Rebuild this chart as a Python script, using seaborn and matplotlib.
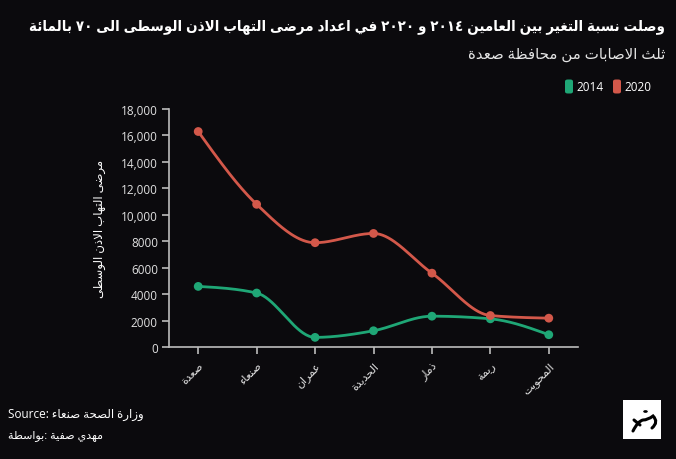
import numpy as np
import pandas as pd
import matplotlib
matplotlib.use("Agg")
import matplotlib.pyplot as plt
import seaborn as sns
from matplotlib.patches import FancyBboxPatch, Rectangle, Circle, PathPatch
from matplotlib.path import Path
from matplotlib.lines import Line2D

# ---------------------------------------------------------------- data
governorates = ["صعدة", "صنعاء", "عمران", "الحديدة", "ذمار", "ريمة", "المحويت"]
cases_2014 = [4600, 4100, 750, 1250, 2350, 2150, 950]
cases_2020 = [16300, 10800, 7900, 8600, 5600, 2400, 2200]
years = ["2014", "2020"]
y_ticks = [0, 2000, 4000, 6000, 8000, 10000, 12000, 14000, 16000, 18000]
y_tick_labels = ["0", "2000", "4000", "6000", "8000",
                 "10,000", "12,000", "14,000", "16,000", "18,000"]

title = "وصلت نسبة التغير بين العامين ٢٠١٤ و ٢٠٢٠ في اعداد مرضى التهاب الاذن الوسطى الى ٧٠ بالمائة"
subtitle = "ثلث الاصابات من محافظة صعدة"
y_label = "مرضى التهاب الاذن الوسطى"
source_text = "وزارة الصحة صنعاء"
byline_words = ["بواسطة", "صفية", "مهدي"]

# ---------------------------------------------------------------- colours
BG = "#0b0a0d"
GREEN = "#1fa776"
RED = "#d3584a"
AXIS = "#bcbcbc"
TICKTXT = "#e0e0e0"
palette = {"2014": GREEN, "2020": RED}

# ---------------------------------------------------------------- arabic shaping
# matplotlib has no contextual shaping, so letters are mapped to their
# presentation forms and each line is put into visual (right-to-left) order.
DUAL = {'ب': 0xFE8F, 'ت': 0xFE95, 'ث': 0xFE99, 'ج': 0xFE9D, 'ح': 0xFEA1,
        'خ': 0xFEA5, 'س': 0xFEB1, 'ش': 0xFEB5, 'ص': 0xFEB9, 'ض': 0xFEBD,
        'ط': 0xFEC1, 'ظ': 0xFEC5, 'ع': 0xFEC9, 'غ': 0xFECD, 'ف': 0xFED1,
        'ق': 0xFED5, 'ك': 0xFED9, 'ل': 0xFEDD, 'م': 0xFEE1, 'ن': 0xFEE5,
        'ه': 0xFEE9, 'ي': 0xFEF1, 'ئ': 0xFE89}
RIGHT = {'آ': 0xFE81, 'أ': 0xFE83, 'ؤ': 0xFE85, 'إ': 0xFE87, 'ا': 0xFE8D,
         'ة': 0xFE93, 'د': 0xFEA9, 'ذ': 0xFEAB, 'ر': 0xFEAD, 'ز': 0xFEAF,
         'و': 0xFEED, 'ى': 0xFEEF}
LAM_ALEF = {'آ': 0xFEF5, 'أ': 0xFEF7, 'إ': 0xFEF9, 'ا': 0xFEFB}


def _is_ar(c):
    return c in DUAL or c in RIGHT or c == 'ء'


def shape(text):
    chars = list(text)
    n = len(chars)
    out = []
    i = 0
    while i < n:
        c = chars[i]
        prev = chars[i - 1] if i > 0 else None
        link_prev = prev is not None and prev in DUAL and _is_ar(c)
        if c == 'ل' and i + 1 < n and chars[i + 1] in LAM_ALEF:
            out.append(chr(LAM_ALEF[chars[i + 1]] + (1 if link_prev else 0)))
            i += 2
            continue
        nxt = chars[i + 1] if i + 1 < n else None
        link_next = c in DUAL and nxt is not None and _is_ar(nxt)
        if c in DUAL:
            off = 3 if (link_prev and link_next) else 1 if link_prev else 2 if link_next else 0
            out.append(chr(DUAL[c] + off))
        elif c in RIGHT:
            out.append(chr(RIGHT[c] + (1 if link_prev else 0)))
        elif c == 'ء':
            out.append(chr(0xFE80))
        else:
            out.append(c)
        i += 1
    return out


def rtl(text):
    runs = []
    for g in shape(text):
        ltr = (g.isascii() and g.isalnum()) or ('\u0660' <= g <= '\u0669')
        if runs and runs[-1][0] == ltr:
            runs[-1][1].append(g)
        else:
            runs.append([ltr, [g]])
    out = []
    for ltr, gs in reversed(runs):
        out.extend(gs if ltr else reversed(gs))
    return "".join(out)


# ---------------------------------------------------------------- smooth curve (monotone in x)
def monotone_curve(values, samples=40):
    y = np.asarray(values, float)
    s = np.diff(y)
    t = np.zeros(len(y))
    sg = lambda v: -1.0 if v < 0 else 1.0
    for i in range(1, len(y) - 1):
        s0, s1 = s[i - 1], s[i]
        p = (s0 + s1) / 2
        t[i] = (sg(s0) + sg(s1)) * min(abs(s0), abs(s1), 0.5 * abs(p))
    t[0] = (3 * s[0] - t[1]) / 2
    t[-1] = (3 * s[-1] - t[-2]) / 2
    xs, ys = [], []
    u = np.linspace(0, 1, samples)
    for i in range(len(y) - 1):
        h00 = 2 * u**3 - 3 * u**2 + 1
        h10 = u**3 - 2 * u**2 + u
        h01 = -2 * u**3 + 3 * u**2
        h11 = u**3 - u**2
        xs.append(i + u)
        ys.append(h00 * y[i] + h10 * t[i] + h01 * y[i + 1] + h11 * t[i + 1])
    return np.concatenate(xs), np.concatenate(ys)


points = pd.DataFrame({
    "pos": list(range(len(governorates))) * 2,
    "cases": cases_2014 + cases_2020,
    "year": [years[0]] * len(governorates) + [years[1]] * len(governorates),
})
curves = []
for yr, vals in zip(years, [cases_2014, cases_2020]):
    cx, cy = monotone_curve(vals)
    curves.append(pd.DataFrame({"pos": cx, "cases": cy, "year": yr}))
curves = pd.concat(curves, ignore_index=True)

# ---------------------------------------------------------------- figure
sns.set_theme(style="ticks")
plt.rcParams["font.family"] = ["Open Sans", "DejaVu Sans"]

W, H = 676, 460
fig = plt.figure(figsize=(W / 100, H / 100), dpi=100, facecolor=BG)


def fx(x):
    return x / W


def fy(y):
    return 1 - y / H


ax = fig.add_axes([fx(169), fy(348.3), (578 - 169) / W, (348.3 - 110) / H])
ax.set_facecolor(BG)

sns.lineplot(data=curves, x="pos", y="cases", hue="year", palette=palette,
             sort=False, estimator=None, linewidth=2.0, legend=False, ax=ax)
sns.scatterplot(data=points, x="pos", y="cases", hue="year", palette=palette,
                s=40, edgecolor="none", legend=False, ax=ax, zorder=3)

ax.set_xlim(-0.5, len(governorates) - 0.5)
ax.set_ylim(0, 18000)
ax.set_yticks(y_ticks)
ax.set_yticklabels(y_tick_labels)
ax.set_xticks(range(len(governorates)))
ax.set_xticklabels([rtl(g) for g in governorates], rotation=45, ha="right",
                   va="top", rotation_mode="anchor")
ax.set_xlabel("")
ax.set_ylabel(rtl(y_label), color="white", fontsize=8.5)
ax.yaxis.set_label_coords((106 - 169) / 409, 0.5)

for side in ["top", "right"]:
    ax.spines[side].set_visible(False)
for side in ["left", "bottom"]:
    ax.spines[side].set_color(AXIS)
    ax.spines[side].set_linewidth(1.2)
ax.tick_params(axis="both", colors=AXIS, width=1.2, length=5, labelcolor=TICKTXT)
ax.tick_params(axis="y", labelsize=8.5, pad=3)
ax.tick_params(axis="x", labelsize=8, pad=4)

# ---------------------------------------------------------------- titles
renderer = fig.canvas.get_renderer()


def fit_width(txt, width_px):
    bb = txt.get_window_extent(renderer)
    txt.set_fontsize(txt.get_fontsize() * width_px / bb.width)


title_txt = fig.text(fx(665), fy(27), rtl(title), color="white", fontsize=12,
                     fontweight="bold", fontstretch="condensed",
                     ha="right", va="center")
fit_width(title_txt, 633)
sub_txt = fig.text(fx(665), fy(55), rtl(subtitle), color="#e4e4e4", fontsize=10,
                   ha="right", va="center")
fit_width(sub_txt, 197)

# legend
for yr, x0 in [(years[0], 565), (years[1], 613)]:
    fig.add_artist(FancyBboxPatch((fx(x0), fy(94.5)), fx(8), 14 / H,
                                  boxstyle="round,pad=0,rounding_size=0.004",
                                  transform=fig.transFigure,
                                  facecolor=palette[yr], edgecolor="none"))
    fig.text(fx(x0 + 11), fy(87.5), yr, color="white", fontsize=8.5,
             ha="left", va="center")

# footer
fig.text(fx(8), fy(415), "Source: " + rtl(source_text), color="white",
         fontsize=8.5, ha="left", va="center")
fig.text(fx(8), fy(436),
         rtl(byline_words[0]) + ": " + " ".join(rtl(w) for w in byline_words[1:]),
         color="white", fontsize=8, ha="left", va="center")

# badge
fig.add_artist(Rectangle((fx(623), fy(440)), fx(38), 39 / H,
                         transform=fig.transFigure, facecolor="white",
                         edgecolor="none"))
fig.add_artist(Circle((fx(645.5), fy(412.5)), 0.0045,
                      transform=fig.transFigure, facecolor="black"))
verts = [(fx(633), fy(432)), (fx(638), fy(422)), (fx(643), fy(421)),
         (fx(648), fy(421)), (fx(653), fy(417)),
         (fx(659), fy(423)), (fx(652), fy(429))]
codes = [Path.MOVETO, Path.CURVE3, Path.CURVE3, Path.CURVE3, Path.CURVE3,
         Path.CURVE3, Path.CURVE3]
fig.add_artist(PathPatch(Path(verts, codes), transform=fig.transFigure,
                         facecolor="none", edgecolor="black", linewidth=2.2,
                         capstyle="round"))
fig.add_artist(Line2D([fx(634), fx(640)], [fy(421), fy(426)],
                      transform=fig.transFigure, color="black", linewidth=2.2,
                      solid_capstyle="round"))

fig.savefig("out.png", dpi=100, facecolor=BG)
